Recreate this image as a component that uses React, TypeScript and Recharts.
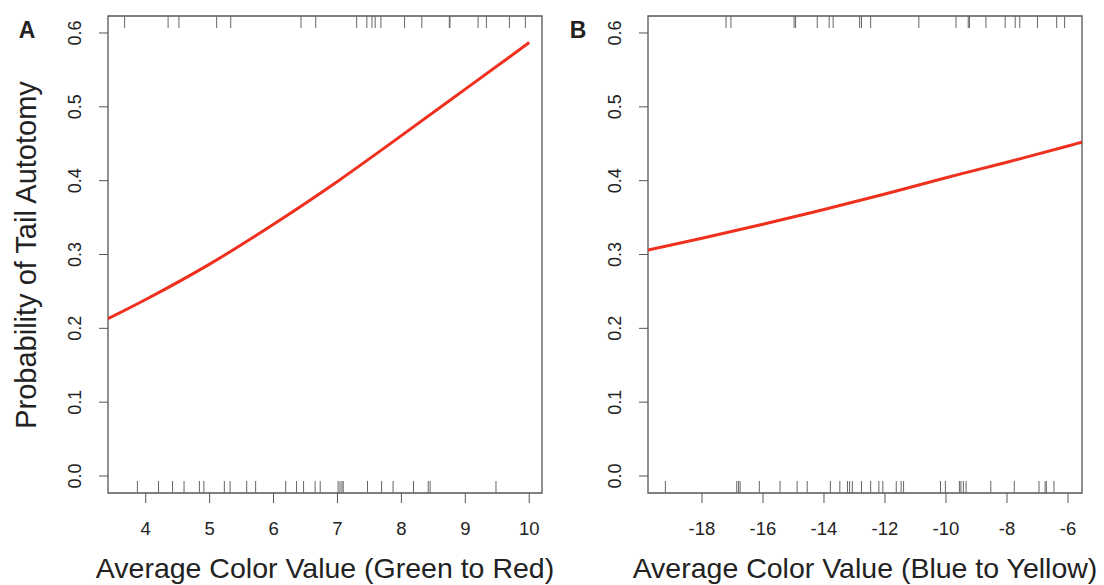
import React from "react";
import {
  ComposedChart,
  XAxis,
  YAxis,
  Line,
  Scatter,
  ReferenceArea,
} from "recharts";

// fitted curves
const curveA = [
  { x: 3.41, y: 0.213 },
  { x: 4, y: 0.239 },
  { x: 5, y: 0.287 },
  { x: 6, y: 0.341 },
  { x: 7, y: 0.399 },
  { x: 8, y: 0.461 },
  { x: 9, y: 0.524 },
  { x: 10, y: 0.587 },
];

const curveB = [
  { x: -19.77, y: 0.306 },
  { x: -18, y: 0.322 },
  { x: -16, y: 0.341 },
  { x: -14, y: 0.361 },
  { x: -12, y: 0.382 },
  { x: -10, y: 0.404 },
  { x: -8, y: 0.425 },
  { x: -6, y: 0.447 },
  { x: -5.54, y: 0.452 },
];

// rug marks: top = autotomy observed, bottom = not observed
const rugTopA = [
  3.67, 4.35, 4.52, 5.11, 5.33, 6.43, 6.66, 7.3, 7.46, 7.54, 7.59, 7.68, 8.05,
  8.32, 8.75, 8.76, 9.2, 9.33, 9.69, 9.94,
];
const rugBottomA = [
  3.87, 4.2, 4.42, 4.6, 4.84, 4.91, 5.23, 5.32, 5.58, 5.72, 6.19, 6.36, 6.47,
  6.65, 6.73, 7.01, 7.04, 7.07, 7.09, 7.47, 7.69, 7.87, 8.19, 8.42, 8.45, 9.48,
];
const rugTopB = [
  -17.21, -17.05, -14.98, -14.93, -14.22, -13.83, -13.7, -12.83, -12.77, -12.47,
  -10.89, -9.67, -9.27, -9.23, -8.69, -8.06, -7.73, -7.58, -7.0, -6.37, -6.11,
];
const rugBottomB = [
  -19.2, -16.86, -16.8, -16.75, -16.12, -15.44, -14.88, -14.55, -13.79, -13.48,
  -13.23, -13.16, -13.07, -12.77, -12.47, -12.2, -12.07, -11.63, -11.47, -11.39,
  -10.18, -10.02, -9.56, -9.51, -9.43, -9.34, -8.53, -7.76, -6.95, -6.75, -6.71,
  -6.46,
];

const yTicks = [0, 0.1, 0.2, 0.3, 0.4, 0.5, 0.6];
const xTicksA = [4, 5, 6, 7, 8, 9, 10];
const xTicksB = [-18, -16, -14, -12, -10, -8, -6];

const Y_DOMAIN: [number, number] = [-0.023, 0.623];
const FONT = "'Liberation Sans', Arial, Helvetica, sans-serif";
const INK = "#222";
const BOX = "#555";
const RED = "#f0301e";

const XTick = ({ x, y, payload }: any) => (
  <text x={x} y={y + 32} textAnchor="middle" fontSize={18.5} fill={INK} fontFamily={FONT}>
    {payload.value}
  </text>
);

const YTick = ({ x, y, payload }: any) => (
  <text
    x={x - 18}
    y={y}
    transform={`rotate(-90 ${x - 18} ${y})`}
    textAnchor="middle"
    fontSize={18}
    fill={INK}
    fontFamily={FONT}
  >
    {Number(payload.value).toFixed(1)}
  </text>
);

const rugShape = (dir: number) => (props: any) => {
  const { cx, cy } = props;
  if (cx == null || cy == null) return <g />;
  return <line x1={cx} x2={cx} y1={cy} y2={cy + dir * 12} stroke="#666" strokeWidth={1} />;
};

interface PanelProps {
  curve: { x: number; y: number }[];
  top: number[];
  bottom: number[];
  xDomain: [number, number];
  xTicks: number[];
  yAxisWidth: number;
  right: number;
}

function Panel({ curve, top, bottom, xDomain, xTicks, yAxisWidth, right }: PanelProps) {
  const topData = top.map((x) => ({ x, y: Y_DOMAIN[1] }));
  const bottomData = bottom.map((x) => ({ x, y: Y_DOMAIN[0] }));
  return (
    <ComposedChart width={552} height={585} margin={{ top: 16, right, bottom: 0, left: 0 }}>
      <XAxis
        type="number"
        dataKey="x"
        domain={xDomain}
        ticks={xTicks}
        allowDataOverflow
        axisLine={false}
        tickSize={10}
        tickMargin={0}
        tickLine={{ stroke: BOX }}
        tick={<XTick />}
        height={92}
      />
      <YAxis
        type="number"
        domain={Y_DOMAIN}
        ticks={yTicks}
        allowDataOverflow
        axisLine={false}
        tickSize={9}
        tickMargin={0}
        tickLine={{ stroke: BOX }}
        tick={<YTick />}
        width={yAxisWidth}
      />
      <ReferenceArea
        x1={xDomain[0]}
        x2={xDomain[1]}
        y1={Y_DOMAIN[0]}
        y2={Y_DOMAIN[1]}
        fill="none"
        stroke={BOX}
        strokeWidth={1.3}
        ifOverflow="visible"
      />
      <Scatter data={topData} dataKey="y" shape={rugShape(1)} isAnimationActive={false} />
      <Scatter data={bottomData} dataKey="y" shape={rugShape(-1)} isAnimationActive={false} />
      <Line
        data={curve}
        dataKey="y"
        type="natural"
        stroke={RED}
        strokeWidth={3}
        dot={false}
        isAnimationActive={false}
      />
    </ComposedChart>
  );
}

export default function App() {
  return (
    <div style={{ position: "absolute", left: 0, top: 0, width: 1104, height: 585, background: "#fff", overflow: "hidden" }}>
      <div style={{ position: "absolute", left: 0, top: 0 }}>
        <Panel
          curve={curveA}
          top={rugTopA}
          bottom={rugBottomA}
          xDomain={[3.41, 10.2]}
          xTicks={xTicksA}
          yAxisWidth={108}
          right={10}
        />
      </div>
      <div style={{ position: "absolute", left: 552, top: 0 }}>
        <Panel
          curve={curveB}
          top={rugTopB}
          bottom={rugBottomB}
          xDomain={[-19.77, -5.54]}
          xTicks={xTicksB}
          yAxisWidth={96}
          right={22}
        />
      </div>
      <svg width={1104} height={585} style={{ position: "absolute", left: 0, top: 0, pointerEvents: "none" }}>
        <g fontFamily={FONT} fill={INK}>
          <text x={27} y={38} fontSize={23} fontWeight="bold" textAnchor="middle">A</text>
          <text x={578} y={38} fontSize={23} fontWeight="bold" textAnchor="middle">B</text>
          <text x={36} y={255} fontSize={29} textAnchor="middle" transform="rotate(-90 36 255)">
            Probability of Tail Autotomy
          </text>
          <text x={325} y={578} fontSize={28.5} textAnchor="middle">
            Average Color Value (Green to Red)
          </text>
          <text x={865} y={578} fontSize={28.5} textAnchor="middle">
            Average Color Value (Blue to Yellow)
          </text>
        </g>
      </svg>
    </div>
  );
}
